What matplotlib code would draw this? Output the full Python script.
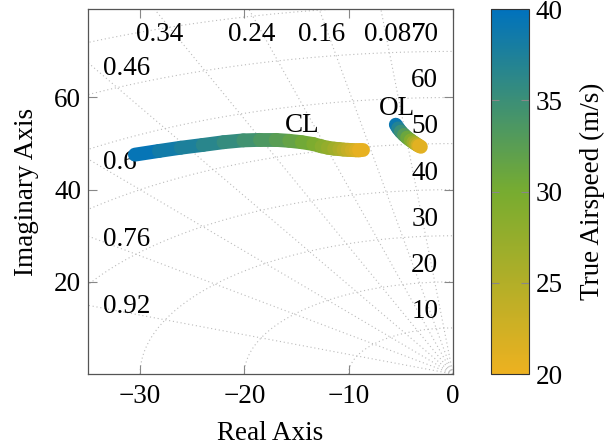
import numpy as np
import matplotlib
matplotlib.use('Agg')
import matplotlib.pyplot as plt
from matplotlib.collections import LineCollection
from matplotlib.colors import LinearSegmentedColormap, Normalize

# closed loop poles (real, imag) against true airspeed
cl_speed = [40, 39, 38, 37, 36, 35, 34, 33, 32, 31, 30, 29, 28, 27, 26, 25, 24, 23, 22, 21, 20]
cl_re = [-30.5, -28.2, -26.1, -24.0, -22.0, -20.1, -18.5, -17.0, -15.7, -14.5, -13.4,
         -12.6, -12.0, -11.4, -10.9, -10.5, -10.1, -9.7, -9.3, -9.0, -8.65]
cl_im = [47.6, 48.4, 49.1, 49.7, 50.3, 50.7, 50.8, 50.8, 50.6, 50.3, 49.9,
         49.4, 49.1, 48.9, 48.8, 48.7, 48.65, 48.6, 48.55, 48.5, 48.5]

# open loop poles
ol_speed = [40, 38, 36, 34, 32, 30, 28, 26, 24, 22, 20]
ol_re = [-5.48, -5.25, -5.0, -4.7, -4.4, -4.05, -3.8, -3.6, -3.4, -3.25, -3.08]
ol_im = [54.1, 53.3, 52.6, 51.9, 51.3, 50.7, 50.3, 50.0, 49.7, 49.5, 49.3]

# sgrid
zeta_vals = [0.087, 0.16, 0.24, 0.34, 0.46, 0.6, 0.76, 0.92]
zeta_lbl = ['0.087', '0.16', '0.24', '0.34', '0.46', '0.6', '0.76', '0.92']
zeta_lbl_x = [-5.63, -12.6, -19.3, -28.1, -33.6, -33.6, -33.6, -33.6]
zeta_lbl_y = [73.6, 73.6, 73.6, 73.6, 66.3, 45.8, 29.2, 14.7]
wn_vals = [10, 20, 30, 40, 50, 60, 70, 80, 90]
wn_lbl = ['10', '20', '30', '40', '50', '60', '70']

plt.rcParams['font.family'] = ['Liberation Serif', 'DejaVu Serif']
plt.rcParams['font.size'] = 19.5
plt.rcParams['mathtext.fontset'] = 'stix'

cmap = LinearSegmentedColormap.from_list('ys', ['#EDB120', '#77AC30', '#0072BD'])
norm = Normalize(20, 40)

fig = plt.figure(figsize=(6.08, 4.46), dpi=100)
ax = fig.add_axes([0.1447, 0.1614, 0.6003, 0.8184])
cax = fig.add_axes([0.8076, 0.1614, 0.0625, 0.8184])

xmin, xmax, ymin, ymax = -35, 0, 0, 79.2
gc = '#bbbbbb'
r = np.linspace(0, 150, 50)
for z in zeta_vals:
    ax.plot(-r * z, r * np.sqrt(1 - z**2), ls=(0, (1, 2.5)), color=gc, lw=0.8, zorder=1)
th = np.linspace(0, np.pi / 2, 300)
for w in wn_vals:
    ax.plot(-w * np.cos(th), w * np.sin(th), ls=(0, (1, 2.5)), color=gc, lw=0.8, zorder=1)

for s, x, y in zip(zeta_lbl, zeta_lbl_x, zeta_lbl_y):
    ha = 'left' if y < 70 else 'center'
    ax.text(x, y, s, ha=ha, va='center', zorder=3)
for s in wn_lbl:
    ax.text(-2.7, float(s) + 3.6, s, ha='center', va='center', zorder=3)


def draw_track(re, im, spd):
    pts = np.column_stack([re, im])
    segs = np.stack([pts[:-1], pts[1:]], axis=1)
    mid = (np.array(spd[:-1]) + np.array(spd[1:])) / 2
    lc = LineCollection(segs, cmap=cmap, norm=norm, linewidths=10,
                        capstyle='round', joinstyle='round', zorder=4)
    lc.set_array(mid)
    ax.add_collection(lc)
    return lc


draw_track(cl_re, cl_im, cl_speed)
draw_track(ol_re, ol_im, ol_speed)

ax.text(-14.5, 54.0, 'CL', ha='center', va='center', zorder=5)
ax.text(-5.37, 57.7, 'OL', ha='center', va='center', zorder=5)

ax.set_xlim(xmin, xmax)
ax.set_ylim(ymin, ymax)
ax.set_xticks([-30, -20, -10, 0])
ax.set_yticks([20, 40, 60])
ax.tick_params(direction='in', top=True, right=True, length=6.5, color='#888888', width=0.8)
ax.tick_params(axis='x', pad=7)
ax.tick_params(axis='y', pad=5)
for sp in ax.spines.values():
    sp.set_color('#555555')
    sp.set_linewidth(0.9)
ax.set_xlabel('Real Axis', labelpad=9)
ax.set_ylabel('Imaginary Axis', labelpad=11)

cb = fig.colorbar(matplotlib.cm.ScalarMappable(norm=norm, cmap=cmap), cax=cax)
cb.set_ticks([20, 25, 30, 35, 40])
cb.ax.tick_params(direction='in', left=True, right=True, length=6, color='#888888', width=0.8, pad=5)
cb.outline.set_edgecolor('#333333')
cb.set_label('True Airspeed (m/s)', labelpad=12)

fig.savefig('out.png', dpi=100)
